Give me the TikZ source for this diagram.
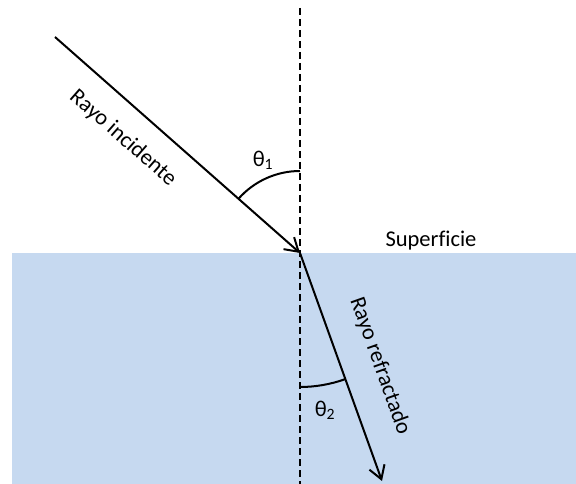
\documentclass[tikz,border=0pt]{standalone}
\usepackage{fontspec}
\setmainfont[Ligatures=CommonOff]{Carlito}
\usetikzlibrary{arrows.meta}
\begin{document}
\begin{tikzpicture}[x=1pt,y=-1pt,
  ray/.style={line width=2pt,-{Straight Barb[length=13pt,width=16pt,line width=2pt]}},
  normal/.style={line width=2pt,dash pattern=on 7pt off 4pt},
  anglearc/.style={line width=2pt},
  lbl/.style={font=\fontsize{22.5}{26}\selectfont,inner sep=0pt}]
\definecolor{water}{RGB}{198,217,240}
\useasboundingbox (0,0) rectangle (576,484);
\fill[water] (12,253) rectangle (576,484);
\coordinate (top) at (300,8);
\coordinate (bot) at (300,484);
\coordinate (src) at (55,37);
\coordinate (O) at (300,253);
\coordinate (end) at (382,481);
\draw[normal] (top) -- (bot);
\draw[ray] (src) -- (O);
\draw[ray] (O) -- (end);
\draw[anglearc] (O) ++(-90:82) arc (-90:-138.6:82);
\draw[anglearc] (O) ++(90:134) arc (90:70.4:134);
\node[lbl] (t1) at (263,160) {θ\textsubscript{1}};
\node[lbl] (t2) at (325,410) {θ\textsubscript{2}};
\node[lbl] (sup) at (431,241) {Superficie};
\node[lbl,rotate=-41.4] (ri) at (123,138) {Rayo incidente};
\node[lbl,rotate=-70.4] (rr) at (380,366) {Rayo refractado};
\end{tikzpicture}
\end{document}
